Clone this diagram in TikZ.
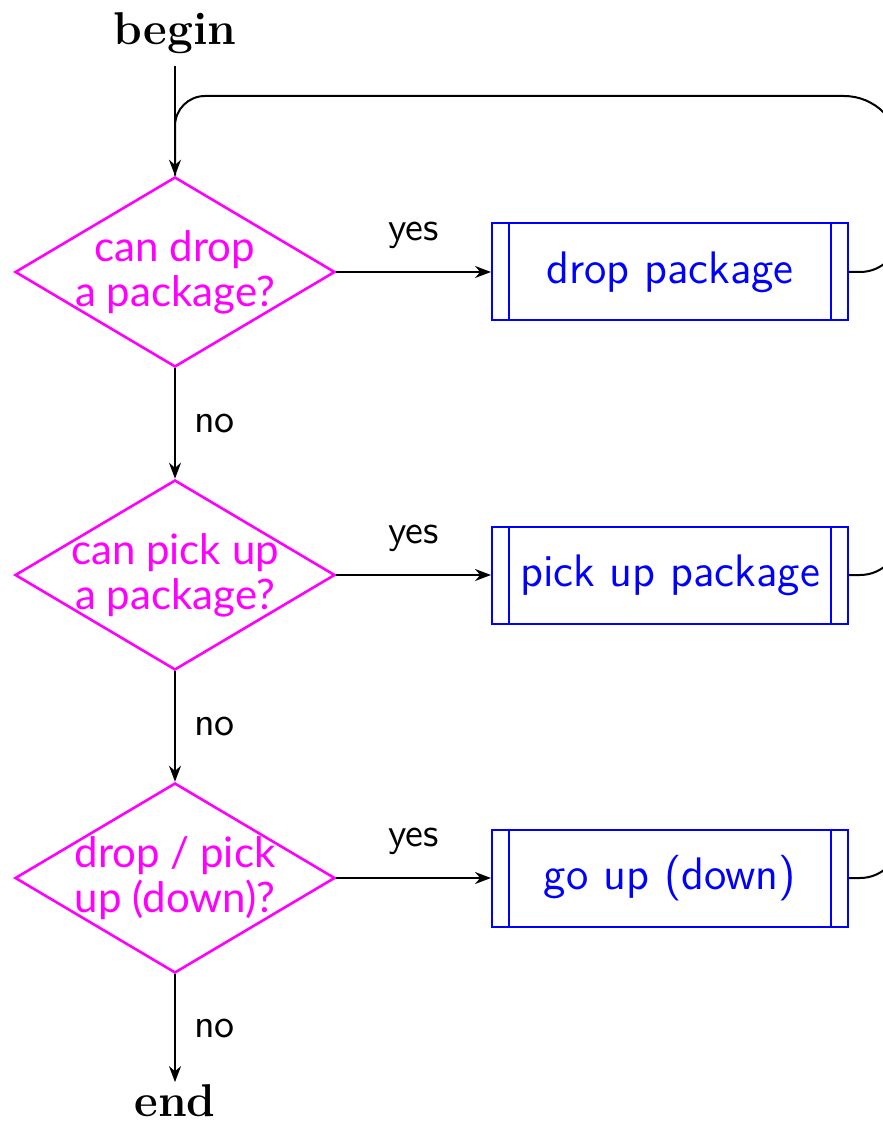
\documentclass[tikz,border=0pt]{standalone}
\usepackage{fontspec}
\newfontfamily\decfont{Lato}
\usetikzlibrary{shapes.geometric,arrows.meta}
\definecolor{decisioncol}{RGB}{255,0,255}
\definecolor{processcol}{RGB}{0,0,255}
\begin{document}
\begin{tikzpicture}[x=0.25pt,y=-0.25pt,
  decision/.style={diamond, draw=decisioncol, line width=0.65pt,
    minimum width=80pt, minimum height=47.5pt, inner sep=0pt},
  decisiontext/.style={text=decisioncol, align=center, inner sep=0pt,
    font=\decfont\fontsize{10.5}{11.3}\selectfont},
  process/.style={rectangle, draw=processcol, line width=0.5pt,
    minimum width=89pt, minimum height=24.25pt, inner sep=0pt,
    text=processcol, font=\sffamily\fontsize{11.4}{13}\selectfont},
  terminal/.style={font=\bfseries\fontsize{11.5}{13}\selectfont},
  flow/.style={draw=black, line width=0.5pt, -{Stealth[length=4pt,width=3pt]}},
  loopline/.style={draw=black, line width=0.5pt},
  answer/.style={font=\sffamily\fontsize{10}{12}\selectfont, inner sep=0pt}]

\useasboundingbox (0,0) rectangle (882,1122);

% terminals
\node[terminal, inner sep=3pt] (begin) at (175,33) {begin};
\node[terminal, inner sep=0.5pt] (end) at (175,1101) {end};

% decisions
\node[decision] (d1) at (175,272) {};
\node[decision] (d2) at (175,575) {};
\node[decision] (d3) at (175,878) {};
\node[decisiontext] (t1) at (d1.center) {can drop\\a package?};
\node[decisiontext] (t2) at (d2.center) {can pick up\\a package?};
\node[decisiontext] (t3) at (d3.center) {drop / pick\\up (down)?};

% predefined processes
\node[process] (b1) at (670,272) {drop package};
\node[process] (b2) at (670,575) {pick up package};
\node[process] (b3) at (670,878) {go up (down)};
\foreach \b in {b1,b2,b3}{
  \draw[processcol, line width=0.5pt]
    ([xshift=4.5pt]\b.north west) -- ([xshift=4.5pt]\b.south west);
  \draw[processcol, line width=0.5pt]
    ([xshift=-4.5pt]\b.north east) -- ([xshift=-4.5pt]\b.south east);
}

% main flow
\draw[flow] (begin) -- (d1.north);
\draw[flow] (d1.south) -- node[answer, midway, right=4.5pt] (n1) {no} (d2.north);
\draw[flow] (d2.south) -- node[answer, midway, right=4.5pt] (n2) {no} (d3.north);
\draw[flow] (d3.south) -- node[answer, midway, right=4.5pt] (n3) {no} (end);
\draw[flow] (d1.east) -- node[answer, midway, above=5.5pt] (y1) {yes} (b1.west);
\draw[flow] (d2.east) -- node[answer, midway, above=5.5pt] (y2) {yes} (b2.west);
\draw[flow] (d3.east) -- node[answer, midway, above=5.5pt] (y3) {yes} (b3.west);

% return lines
\coordinate (ret) at (900,96);
\coordinate (ret2) at (900,400);
\coordinate (ret3) at (900,700);
\draw[loopline] (b1.east) [rounded corners=10pt] -- (b1.east -| ret)
  [rounded corners=14pt] -- (ret)
  [rounded corners=7.5pt] -- (ret -| d1.north) -- (d1.north);
\draw[loopline, rounded corners=10pt] (b2.east) -| (ret2);
\draw[loopline, rounded corners=10pt] (b3.east) -| (ret3);
\end{tikzpicture}
\end{document}
